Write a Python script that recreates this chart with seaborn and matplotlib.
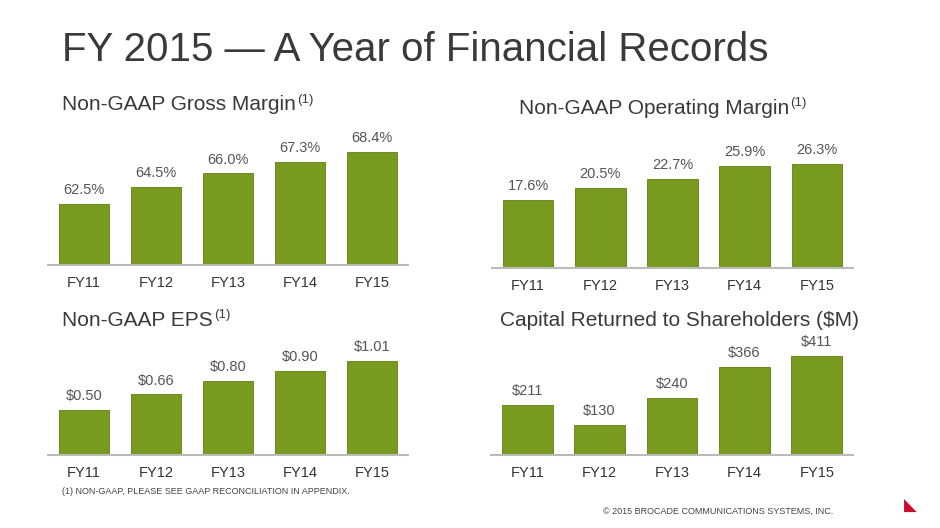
import matplotlib
matplotlib.use("Agg")
import matplotlib.pyplot as plt
import seaborn as sns
import pandas as pd

years = ["FY11", "FY12", "FY13", "FY14", "FY15"]
gross_margin = [62.5, 64.5, 66.0, 67.3, 68.4]
op_margin = [17.6, 20.5, 22.7, 25.9, 26.3]
eps = [0.50, 0.66, 0.80, 0.90, 1.01]
capital = [211, 130, 240, 366, 411]

sns.set_theme(style="white")
plt.rcParams['font.family'] = ['Liberation Sans', 'DejaVu Sans']

W, H = 940, 528
fig = plt.figure(figsize=(9.4, 5.28), dpi=100)
GREEN = "#779A1F"

def px_ax(x0, x1, ytop, ybot):
    return fig.add_axes([x0 / W, 1 - ybot / H, (x1 - x0) / W, (ybot - ytop) / H])

panels = [
    (gross_margin, (48, 408, 140, 265), (55.6, 69.8), "{:.1f}%"),
    (op_margin, (492, 853, 140, 268), (1.17, 32.1), "{:.1f}%"),
    (eps, (48, 408, 330, 455), (0.031, 1.33), "${:.2f}"),
    (capital, (491, 853, 330, 455), (8, 517), "${:.0f}"),
]

for vals, box, ylim, fmt in panels:
    ax = px_ax(*box)
    df = pd.DataFrame({"year": years, "value": vals})
    sns.barplot(data=df, x="year", y="value", color=GREEN, width=0.7, ax=ax,
                saturation=1, edgecolor="#5E7F12", linewidth=0.6)
    ax.set_ylim(*ylim)
    ax.set_xlim(-0.5, 4.5)
    for i, v in enumerate(vals):
        ax.annotate(fmt.format(v), (i, v), xytext=(0, 5), textcoords="offset points",
                    ha="center", va="bottom", fontsize=10.5, color="#555555")
    ax.set_yticks([])
    ax.set_xlabel("")
    ax.set_ylabel("")
    for s in ["top", "right", "left"]:
        ax.spines[s].set_visible(False)
    ax.spines["bottom"].set_color("#BBBBBB")
    ax.spines["bottom"].set_linewidth(1.5)
    ax.tick_params(axis="x", length=0, labelsize=10.5, labelcolor="#333333", pad=8)
    ax.set_facecolor("none")

fig.text(62 / W, 1 - 50 / H, "FY 2015 — A Year of Financial Records", fontsize=29,
         color="#3A3A3A", va="center", ha="left")

renderer = fig.canvas.get_renderer()
def subtitle(x, y, txt, sup=True):
    t = fig.text(x / W, 1 - y / H, txt, fontsize=15, color="#3A3A3A", va="center", ha="left")
    if sup:
        bb = t.get_window_extent(renderer)
        fig.text(bb.x1 / (W) + 1 / W, 1 - (y - 5) / H, "(1)", fontsize=9.5,
                 color="#3A3A3A", va="center", ha="left")

subtitle(62, 105, "Non-GAAP Gross Margin")
subtitle(519, 108, "Non-GAAP Operating Margin")
subtitle(62, 320, "Non-GAAP EPS")
subtitle(500, 320, "Capital Returned to Shareholders ($M)", sup=False)

fig.text(62 / W, 1 - 492 / H, "(1) NON-GAAP, PLEASE SEE GAAP RECONCILIATION IN APPENDIX.",
         fontsize=6.5, color="#444444", va="center")
fig.text(833 / W, 1 - 511 / H, "© 2015 BROCADE COMMUNICATIONS SYSTEMS, INC.",
         fontsize=6.5, color="#444444", va="center", ha="right")
fig.text(910 / W, 1 - 506 / H, "◣", fontsize=12, color="#C8102E", va="center", ha="center")

fig.savefig("out.png", dpi=100)
